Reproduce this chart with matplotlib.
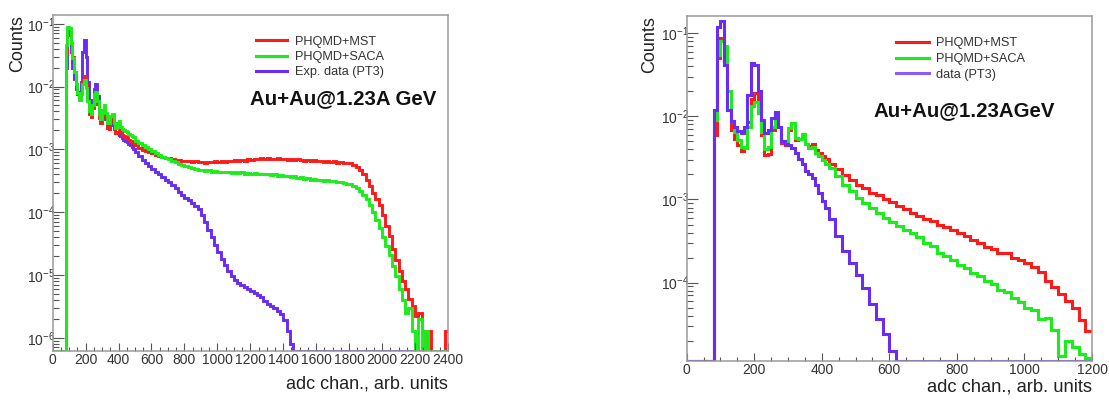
import numpy as np
import matplotlib
matplotlib.use("Agg")
import matplotlib.pyplot as plt
from matplotlib.lines import Line2D
from matplotlib.ticker import LogLocator, NullFormatter, MultipleLocator, LogFormatterMathtext

plt.rcParams['font.family'] = ['Liberation Sans', 'DejaVu Sans']
plt.rcParams['mathtext.fontset'] = 'custom'
plt.rcParams['mathtext.rm'] = 'Liberation Sans'
plt.rcParams['mathtext.it'] = 'Liberation Sans:italic'
plt.rcParams['mathtext.bf'] = 'Liberation Sans:bold'

# ---------------- data: left panel ----------------
left_edges = np.concatenate([[0], np.arange(80, 500, 10), np.arange(500, 2401, 20)])

mst_left_fine = [0.034, 0.075, 0.08, 0.05, 0.029, 0.017, 0.011, 0.0082, 0.0068, 0.0082,
                 0.0125, 0.0145, 0.011, 0.0062, 0.0036, 0.0033, 0.0045, 0.0068, 0.0075, 0.0052,
                 0.0031, 0.0026, 0.0036, 0.0043, 0.0033, 0.0022, 0.0021, 0.0027, 0.003, 0.0022,
                 0.0018, 0.0019, 0.0021, 0.0019, 0.0017, 0.0016, 0.00155, 0.0015, 0.0014, 0.00135,
                 0.0013, 0.00125]
mst_left_coarse = [1.15e-3, 1.06e-3, 0.99e-3, 0.94e-3, 0.89e-3, 0.86e-3, 0.81e-3, 0.78e-3, 0.75e-3, 0.73e-3,
                   0.72e-3, 0.70e-3, 0.68e-3, 0.67e-3, 0.66e-3, 0.65e-3, 0.64e-3, 0.63e-3, 0.64e-3, 0.62e-3,
                   0.63e-3, 0.61e-3, 0.63e-3, 0.62e-3, 0.64e-3, 0.63e-3, 0.65e-3, 0.63e-3, 0.66e-3, 0.65e-3,
                   0.67e-3, 0.66e-3, 0.68e-3, 0.66e-3, 0.69e-3, 0.68e-3, 0.70e-3, 0.69e-3, 0.72e-3, 0.70e-3,
                   0.73e-3, 0.71e-3, 0.70e-3, 0.72e-3, 0.69e-3, 0.70e-3, 0.68e-3, 0.70e-3, 0.67e-3, 0.69e-3,
                   0.68e-3, 0.66e-3, 0.68e-3, 0.65e-3, 0.67e-3, 0.64e-3, 0.66e-3, 0.63e-3, 0.65e-3, 0.62e-3,
                   0.64e-3, 0.61e-3, 0.63e-3, 0.60e-3, 0.61e-3,
                   6.0e-4, 5.7e-4, 5.3e-4, 4.7e-4, 4.0e-4, 3.3e-4, 2.6e-4, 2.0e-4, 1.6e-4, 1.3e-4,
                   9.0e-5, 6.0e-5, 4.2e-5, 2.6e-5, 1.7e-5, 1.15e-5, 8.0e-6, 6.0e-6, 4.2e-6, 3.2e-6,
                   2.2e-6, 2.5e-6, 1.3e-6, 0, 1.3e-6, 0, 0, 0, 0, 1.3e-6]

saca_left_fine = [0.045, 0.088, 0.085, 0.05, 0.028, 0.017, 0.011, 0.0078, 0.0062, 0.0075,
                  0.011, 0.0125, 0.0095, 0.0058, 0.0040, 0.0037, 0.0050, 0.0075, 0.0082, 0.0058,
                  0.0036, 0.0030, 0.0043, 0.0050, 0.0038, 0.0026, 0.0026, 0.0034, 0.0036, 0.0026,
                  0.0022, 0.0026, 0.0028, 0.0023, 0.0021, 0.0020, 0.00195, 0.0019, 0.00175, 0.0017,
                  0.0016, 0.00155]
saca_left_coarse = [13.8e-4, 12.7e-4, 11.7e-4, 10.8e-4, 10.0e-4, 9.4e-4, 8.7e-4, 8.1e-4, 7.6e-4, 7.3e-4,
                    6.9e-4, 6.5e-4, 6.2e-4, 5.9e-4, 5.7e-4, 5.5e-4, 5.2e-4, 5.0e-4, 4.9e-4, 4.7e-4,
                    4.7e-4, 4.5e-4, 4.6e-4, 4.4e-4, 4.5e-4, 4.3e-4, 4.4e-4, 4.3e-4, 4.4e-4, 4.2e-4,
                    4.3e-4, 4.2e-4, 4.3e-4, 4.1e-4, 4.2e-4, 4.1e-4, 4.2e-4, 4.0e-4, 4.1e-4, 4.0e-4,
                    4.1e-4, 3.9e-4, 4.0e-4, 3.8e-4, 3.9e-4, 3.7e-4, 3.8e-4, 3.6e-4, 3.7e-4, 3.5e-4,
                    3.6e-4, 3.4e-4, 3.5e-4, 3.3e-4, 3.4e-4, 3.2e-4, 3.3e-4, 3.1e-4, 3.2e-4, 3.1e-4,
                    3.1e-4, 3.0e-4, 3.0e-4, 2.9e-4, 2.8e-4,
                    2.8e-4, 2.6e-4, 2.4e-4, 2.2e-4, 1.9e-4, 1.6e-4, 1.3e-4, 1.0e-4, 7.5e-5, 5.5e-5,
                    4.0e-5, 2.9e-5, 2.1e-5, 1.4e-5, 9.5e-6, 6.0e-6, 4.0e-6, 2.5e-6, 3.0e-6, 1.3e-6,
                    0, 2.0e-6, 0, 1.3e-6, 0, 0, 0, 0, 0, 0]

data_left_fine = [0.02, 0.07, 0.065, 0.035, 0.02, 0.013, 0.009, 0.0075, 0.007, 0.012,
                  0.035, 0.055, 0.03, 0.012, 0.006, 0.0045, 0.0055, 0.009, 0.011, 0.007,
                  0.0042, 0.0032, 0.0034, 0.0038, 0.003, 0.0022, 0.0021, 0.0024, 0.0025, 0.0021,
                  0.0019, 0.0018, 0.0017, 0.0016, 0.0015, 0.0014, 0.00135, 0.0013, 0.0012, 0.00115,
                  0.0011, 0.00102]
data_left_coarse = [9.2e-4, 7.8e-4, 6.8e-4, 6.0e-4, 5.4e-4, 4.9e-4, 4.4e-4, 4.0e-4, 3.6e-4, 3.3e-4,
                    3.0e-4, 2.7e-4, 2.4e-4, 2.1e-4, 1.9e-4, 1.7e-4, 1.55e-4, 1.4e-4, 1.25e-4, 1.12e-4,
                    9.0e-5, 7.0e-5, 5.2e-5, 4.0e-5, 3.0e-5, 2.3e-5, 1.8e-5, 1.45e-5, 1.15e-5, 9.5e-6,
                    8.2e-6, 7.5e-6, 7.0e-6, 6.5e-6, 6.0e-6, 5.6e-6, 5.2e-6, 4.8e-6, 4.4e-6, 3.9e-6,
                    3.5e-6, 3.2e-6, 3.0e-6, 2.7e-6, 2.4e-6, 1.9e-6, 1.3e-6, 8.0e-7] + [0] * 47

# ---------------- data: right panel ----------------
right_edges = np.concatenate([[0], np.arange(80, 420, 10), np.arange(420, 1201, 20)])

mst_right_fine = [0.006, 0.05, 0.087, 0.045, 0.012, 0.0068, 0.0053, 0.0045, 0.0038, 0.0042,
                  0.0085, 0.016, 0.019, 0.0125, 0.006, 0.0034, 0.0035, 0.0068, 0.0105, 0.0075,
                  0.0048, 0.0045, 0.0068, 0.0083, 0.0052, 0.0054, 0.006, 0.0046, 0.0044, 0.0046,
                  0.0039, 0.0036, 0.0033, 0.0031]
mst_right_coarse = [2.7e-3, 2.3e-3, 1.95e-3, 1.72e-3, 1.5e-3, 1.38e-3, 1.2e-3, 1.12e-3, 1.0e-3, 9.3e-4,
                    8.3e-4, 7.6e-4, 6.8e-4, 6.4e-4, 5.8e-4, 5.5e-4, 5.0e-4, 4.7e-4, 4.35e-4, 3.95e-4,
                    3.6e-4, 3.25e-4, 3.0e-4, 2.7e-4, 2.55e-4, 2.3e-4, 2.25e-4, 2.0e-4, 1.85e-4, 1.7e-4,
                    1.55e-4, 1.35e-4, 1.05e-4, 8.8e-5, 7.2e-5, 6.0e-5, 5.0e-5, 3.5e-5, 2.6e-5]

saca_right_fine = [0.009, 0.055, 0.08, 0.07, 0.02, 0.0087, 0.0065, 0.0052, 0.0043, 0.0042,
                   0.0075, 0.0135, 0.0148, 0.011, 0.0065, 0.0041, 0.0043, 0.0075, 0.0104, 0.0075,
                   0.005, 0.0048, 0.0072, 0.0083, 0.0055, 0.0054, 0.0062, 0.0046, 0.0042, 0.0043,
                   0.0036, 0.0033, 0.003, 0.0027]
saca_right_coarse = [2.4e-3, 1.9e-3, 1.5e-3, 1.25e-3, 1.05e-3, 9.0e-4, 7.8e-4, 6.9e-4, 6.0e-4, 5.3e-4,
                     4.8e-4, 4.3e-4, 3.9e-4, 3.5e-4, 3.0e-4, 2.75e-4, 2.3e-4, 2.1e-4, 1.85e-4, 1.65e-4,
                     1.5e-4, 1.3e-4, 1.2e-4, 1.05e-4, 9.6e-5, 8.2e-5, 7.6e-5, 6.6e-5, 5.9e-5, 5.0e-5,
                     4.7e-5, 3.6e-5, 3.7e-5, 2.7e-5, 1.3e-5, 2.0e-5, 1.7e-5, 1.4e-5, 1.25e-5]

data_right_fine = [0.012, 0.12, 0.14, 0.042, 0.012, 0.0087, 0.0074, 0.0067, 0.0063, 0.0075,
                   0.018, 0.044, 0.042, 0.02, 0.009, 0.0063, 0.0068, 0.0095, 0.0114, 0.0075,
                   0.005, 0.0046, 0.0045, 0.0042, 0.0036, 0.0031, 0.0027, 0.0022, 0.002, 0.0018,
                   0.0015, 0.0012, 0.00097, 0.0008]
data_right_coarse = [5.8e-4, 3.6e-4, 2.4e-4, 1.7e-4, 1.25e-4, 8.5e-5, 5.5e-5, 3.6e-5, 2.4e-5, 1.5e-5] + [0] * 29

labels_left = ["PHQMD+MST", "PHQMD+SACA", "Exp. data (PT3)"]
labels_right = ["PHQMD+MST", "PHQMD+SACA", "data (PT3)"]
title_left = "Au+Au@1.23A GeV"
title_right = "Au+Au@1.23AGeV"
xlabel = "adc chan., arb. units"
ylabel = "Counts"

RED = "#ff1a1a"
GREEN = "#1aee1a"
PURPLE = "#6a2cf2"

fig = plt.figure(figsize=(11.09, 4.01), dpi=100)

def style_axes(ax, xmax, ymin, ymax, xmajor, xminor):
    ax.set_yscale('log')
    ax.set_xlim(0, xmax)
    ax.set_ylim(ymin, ymax)
    ax.xaxis.set_major_locator(MultipleLocator(xmajor))
    ax.xaxis.set_minor_locator(MultipleLocator(xminor))
    ax.yaxis.set_major_locator(LogLocator(base=10, numticks=20))
    ax.yaxis.set_minor_locator(LogLocator(base=10, subs=np.arange(2, 10), numticks=20))
    ax.yaxis.set_minor_formatter(NullFormatter())
    ax.yaxis.set_major_formatter(LogFormatterMathtext())
    for s in ax.spines.values():
        s.set_color('#9a9a9a')
        s.set_linewidth(1.1)
    ax.tick_params(which='both', direction='in', top=False, right=False, color='#555555', width=0.8,
                   labelcolor='#333333', labelsize=10)
    ax.tick_params(axis='x', which='major', length=5.8, pad=2)
    ax.tick_params(axis='x', which='minor', length=2.9)
    ax.tick_params(axis='y', which='major', length=7.7, pad=-2)
    ax.tick_params(axis='y', which='minor', length=4.0)

def draw(ax, edges, vals, color, lw, ymin):
    v = np.asarray(vals, dtype=float)
    v = np.where(v > 0, v, ymin)
    ax.stairs(v, edges, baseline=None, color=color, linewidth=lw)

# ---------------- left panel ----------------
axL = fig.add_axes([0.0475, 0.1254, 0.3564, 0.8372])
yminL, ymaxL = 6.21e-7, 0.1376
style_axes(axL, 2400, yminL, ymaxL, 200, 50)
mst_left = [0] + mst_left_fine + mst_left_coarse
saca_left = [0] + saca_left_fine + saca_left_coarse
data_left = [0] + data_left_fine + data_left_coarse
draw(axL, left_edges, data_left, PURPLE, 2.1, yminL)
draw(axL, left_edges, mst_left, RED, 2.1, yminL)
draw(axL, left_edges, saca_left, GREEN, 2.1, yminL)

handles = [Line2D([], [], color=c, lw=2.2) for c in (RED, GREEN, PURPLE)]
axL.legend(handles, labels_left, loc='upper left', bbox_to_anchor=(0.514, 0.938), frameon=False,
           fontsize=9.2, handlelength=2.45, handletextpad=0.65, labelspacing=0.25, borderpad=0,
           borderaxespad=0, labelcolor='#333333')
axL.text(0.499, 0.75, title_left, transform=axL.transAxes, fontsize=14.7, fontweight='bold',
         ha='left', va='center', color='#111111')
fig.text(17.5 / 1109, 1 - 15 / 401, ylabel, rotation=90, ha='center', va='top', fontsize=13, color='#222222')
fig.text(448 / 1109, 1 - 384 / 401, xlabel, ha='right', va='center', fontsize=13, color='#222222')

# ---------------- right panel ----------------
axR = fig.add_axes([0.6192, 0.1005, 0.3655, 0.8596])
yminR, ymaxR = 1.148e-5, 0.1615
style_axes(axR, 1200, yminR, ymaxR, 200, 50)
mst_right = [0] + mst_right_fine + mst_right_coarse
saca_right = [0] + saca_right_fine + saca_right_coarse
data_right = [0] + data_right_fine + data_right_coarse
draw(axR, right_edges, mst_right, RED, 2.2, yminR)
draw(axR, right_edges, saca_right, GREEN, 2.2, yminR)
draw(axR, right_edges, data_right, PURPLE, 2.2, yminR)

handles = [Line2D([], [], color=c, lw=2.2) for c in (RED, GREEN, "#8a5cf6")]
axR.legend(handles, labels_right, loc='upper left', bbox_to_anchor=(0.516, 0.938), frameon=False,
           fontsize=9.2, handlelength=2.6, handletextpad=0.55, labelspacing=0.29, borderpad=0,
           borderaxespad=0, labelcolor='#333333')
axR.text(0.46, 0.727, title_right, transform=axR.transAxes, fontsize=14.7, fontweight='bold',
         ha='left', va='center', color='#111111')
fig.text(650 / 1109, 1 - 16 / 401, ylabel, rotation=90, ha='center', va='top', fontsize=13, color='#222222')
fig.text(1092 / 1109, 1 - 387.5 / 401, xlabel, ha='right', va='center', fontsize=13.2, color='#222222')

fig.savefig("out.png", dpi=100)
